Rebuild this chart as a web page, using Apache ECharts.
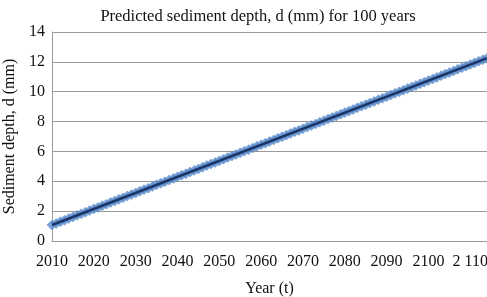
<!DOCTYPE html>
<html>
<head>
<meta charset="utf-8">
<script src="https://cdn.jsdelivr.net/npm/echarts@6/dist/echarts.min.js"></script>
<style>
  html, body { margin: 0; padding: 0; background: #fff; }
  #chart { width: 487px; height: 297px; }
</style>
</head>
<body>
<div id="chart"></div>
<script>
const years = [
  2010, 2011, 2012, 2013, 2014, 2015, 2016, 2017, 2018, 2019,
  2020, 2021, 2022, 2023, 2024, 2025, 2026, 2027, 2028, 2029,
  2030, 2031, 2032, 2033, 2034, 2035, 2036, 2037, 2038, 2039,
  2040, 2041, 2042, 2043, 2044, 2045, 2046, 2047, 2048, 2049,
  2050, 2051, 2052, 2053, 2054, 2055, 2056, 2057, 2058, 2059,
  2060, 2061, 2062, 2063, 2064, 2065, 2066, 2067, 2068, 2069,
  2070, 2071, 2072, 2073, 2074, 2075, 2076, 2077, 2078, 2079,
  2080, 2081, 2082, 2083, 2084, 2085, 2086, 2087, 2088, 2089,
  2090, 2091, 2092, 2093, 2094, 2095, 2096, 2097, 2098, 2099,
  2100, 2101, 2102, 2103, 2104, 2105, 2106, 2107, 2108, 2109,
  2110, 2111, 2112, 2113, 2114
]
const depth = [
  1.07, 1.18, 1.29, 1.39, 1.50, 1.61, 1.72, 1.82, 1.93, 2.04,
  2.15, 2.25, 2.36, 2.47, 2.58, 2.68, 2.79, 2.90, 3.01, 3.11,
  3.22, 3.33, 3.44, 3.54, 3.65, 3.76, 3.87, 3.97, 4.08, 4.19,
  4.30, 4.40, 4.51, 4.62, 4.73, 4.83, 4.94, 5.05, 5.16, 5.26,
  5.37, 5.48, 5.59, 5.69, 5.80, 5.91, 6.02, 6.12, 6.23, 6.34,
  6.45, 6.55, 6.66, 6.77, 6.88, 6.98, 7.09, 7.20, 7.31, 7.41,
  7.52, 7.63, 7.74, 7.84, 7.95, 8.06, 8.17, 8.27, 8.38, 8.49,
  8.60, 8.70, 8.81, 8.92, 9.03, 9.13, 9.24, 9.35, 9.46, 9.56,
  9.67, 9.78, 9.89, 9.99, 10.10, 10.21, 10.32, 10.42, 10.53, 10.64,
  10.75, 10.85, 10.96, 11.07, 11.18, 11.28, 11.39, 11.50, 11.61, 11.71,
  11.82, 11.93, 12.04, 12.14, 12.25
]
const trendYears = [2010, 2114]
const trendDepth = [1.07, 12.25]
const yTicks = [0, 2, 4, 6, 8, 10, 12, 14]

const font = 'Liberation Serif, Times New Roman, serif'
const chart = echarts.init(document.getElementById('chart'))

chart.setOption({
  animation: false,
  title: {
    text: 'Predicted sediment depth, d (mm) for 100 years',
    left: 253,
    textAlign: 'center',
    top: 3,
    textStyle: { fontFamily: font, fontSize: 16.5, fontWeight: 'normal', color: '#111' }
  },
  grid: { left: 52, right: 0, top: 32, bottom: 56, outerBoundsMode: 'none' },
  xAxis: {
    type: 'value',
    min: 2010,
    max: 2114,
    interval: 10,
    name: 'Year (t)',
    nameLocation: 'middle',
    nameGap: 40,
    nameTextStyle: { fontFamily: font, fontSize: 16, color: '#111' },
    axisLine: { lineStyle: { color: '#9a9a9a' } },
    axisTick: { show: false },
    splitLine: { show: false },
    axisLabel: {
      fontFamily: font, fontSize: 16, color: '#111', margin: 13,
      formatter: v => (v === 2110 ? '2 110' : String(v))
    }
  },
  yAxis: {
    type: 'value',
    min: yTicks[0],
    max: yTicks[yTicks.length - 1],
    interval: 2,
    name: 'Sediment depth, d (mm)',
    nameLocation: 'middle',
    nameGap: 28,
    nameTextStyle: { fontFamily: font, fontSize: 16, color: '#111' },
    axisLine: { show: true, lineStyle: { color: '#9a9a9a' } },
    axisTick: { show: false },
    splitLine: { lineStyle: { color: '#9a9a9a' } },
    axisLabel: { fontFamily: font, fontSize: 16, color: '#111', margin: 7 }
  },
  series: [
    {
      type: 'scatter',
      data: years.map((y, i) => [y, depth[i]]),
      symbol: 'diamond',
      symbolSize: 10,
      itemStyle: { color: '#5b8fcf', borderColor: '#4677b8', borderWidth: 0.5 }
    },
    {
      type: 'line',
      data: trendYears.map((y, i) => [y, trendDepth[i]]),
      showSymbol: false,
      lineStyle: { color: '#1c3566', width: 2.5 }
    }
  ]
})
</script>
</body>
</html>
